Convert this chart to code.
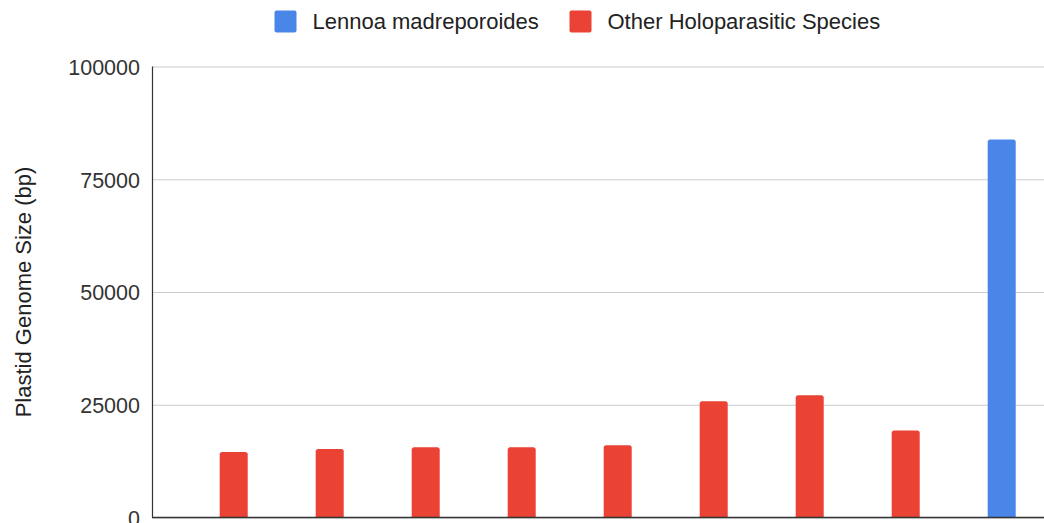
<!DOCTYPE html>
<html>
<head>
<meta charset="utf-8">
<script src="https://cdn.jsdelivr.net/npm/d3@7"></script>
<style>
  body { margin: 0; background: #fff; overflow: hidden; }
  svg { display: block; font-family: "Liberation Sans", Arial, sans-serif; }
  .grid line { stroke: #cccccc; stroke-width: 1; }
  .grid text { fill: #333; font-size: 21.5px; }
</style>
</head>
<body>
<div id="chart-area"></div>
<script>
// x labels are cut off in the source image, so these are just slot names
const categories = ["sp1", "sp2", "sp3", "sp4", "sp5", "sp6", "sp7", "sp8", "Lennoa madreporoides"];
const genomeSize = [14500, 15200, 15600, 15600, 16000, 25800, 27100, 19300, 83800];
const group = ["other", "other", "other", "other", "other", "other", "other", "other", "lennoa"];
const yTicks = [0, 25000, 50000, 75000, 100000];
const seriesNames = ["Lennoa madreporoides", "Other Holoparasitic Species"];
const seriesKeys = ["lennoa", "other"];

const colors = { lennoa: "#4a86e8", other: "#ea4335" };

const width = 1044,
  height = 523;
const plot = { left: 152, right: 1044, top: 66.5, bottom: 517.5 };

const svg = d3
  .select("#chart-area")
  .append("svg")
  .attr("width", width)
  .attr("height", height);

// Scales
const xScale = d3
  .scaleBand()
  .domain(categories)
  .range([185.7, 1049.7])
  .paddingInner(0.708)
  .paddingOuter(0.354);

const yScale = d3
  .scaleLinear()
  .domain([0, 100000])
  .range([plot.bottom, plot.top]);

// gridlines + tick labels
const yAxisCall = d3
  .axisLeft(yScale)
  .tickValues(yTicks)
  .tickSize(-(plot.right - plot.left))
  .tickPadding(12)
  .tickFormat(d3.format("d"));

svg
  .append("g")
  .attr("class", "grid")
  .attr("transform", "translate(" + plot.left + ",0)")
  .call(yAxisCall)
  .call(g => g.select(".domain").remove())
  .call(g => g.selectAll("text").attr("dy", "0.36em"));

// Y Label
svg
  .append("text")
  .attr("transform", "translate(31," + (plot.top + plot.bottom) / 2 + ") rotate(-90)")
  .attr("text-anchor", "middle")
  .attr("font-size", "22px")
  .attr("fill", "#222")
  .text("Plastid Genome Size (bp)");

// clip so rounded corners only show on top
svg
  .append("clipPath")
  .attr("id", "plot-clip")
  .append("rect")
  .attr("x", plot.left)
  .attr("y", 0)
  .attr("width", plot.right - plot.left)
  .attr("height", plot.bottom);

svg
  .append("g")
  .attr("clip-path", "url(#plot-clip)")
  .selectAll("rect")
  .data(categories)
  .enter()
  .append("rect")
  .attr("x", d => xScale(d))
  .attr("y", (d, i) => yScale(genomeSize[i]))
  .attr("width", xScale.bandwidth())
  .attr("height", (d, i) => plot.bottom - yScale(genomeSize[i]) + 4)
  .attr("rx", 2.5)
  .attr("fill", (d, i) => colors[group[i]]);

// axis lines
svg
  .append("line")
  .attr("x1", plot.left + 0.5)
  .attr("x2", plot.left + 0.5)
  .attr("y1", plot.top)
  .attr("y2", plot.bottom)
  .attr("stroke", "#333")
  .attr("stroke-width", 1.2);

svg
  .append("line")
  .attr("x1", plot.left)
  .attr("x2", plot.right)
  .attr("y1", plot.bottom)
  .attr("y2", plot.bottom)
  .attr("stroke", "#333")
  .attr("stroke-width", 1.3);

// Legend
const legendX = [274.5, 569.5];
const legend = svg
  .selectAll(".legend")
  .data(seriesKeys)
  .enter()
  .append("g")
  .attr("class", "legend")
  .attr("transform", (d, i) => "translate(" + legendX[i] + ",10.5)");

legend
  .append("rect")
  .attr("width", 22)
  .attr("height", 22)
  .attr("rx", 2)
  .attr("fill", d => colors[d]);

legend
  .append("text")
  .attr("x", 38)
  .attr("y", 18.5)
  .attr("font-size", "22px")
  .attr("fill", "#222")
  .text((d, i) => seriesNames[i]);
</script>
</body>
</html>
